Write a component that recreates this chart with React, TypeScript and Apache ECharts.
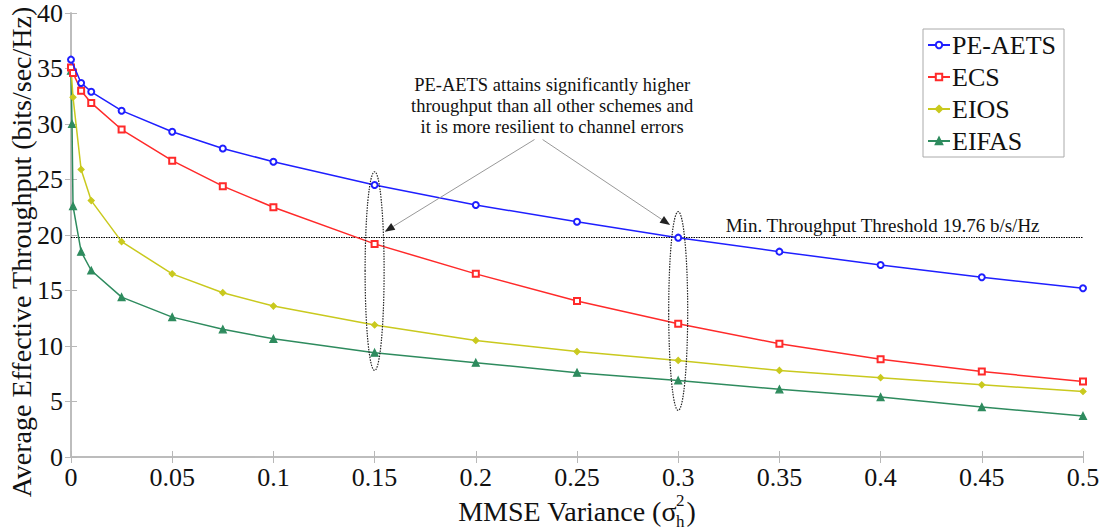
import React, { useEffect, useRef } from "react";
import * as echarts from "echarts";

const SERIF = "Liberation Serif";

// MMSE variance values (x) and throughput (y) for each scheme
const xMain = [0, 0.005, 0.01, 0.025, 0.05, 0.075, 0.1, 0.15, 0.2, 0.25, 0.3, 0.35, 0.4, 0.45, 0.5];
const peAets = [35.8, 33.7, 32.9, 31.2, 29.3, 27.8, 26.6, 24.5, 22.7, 21.2, 19.76, 18.5, 17.3, 16.2, 15.2];

const xEcs = [0, 0.001, 0.005, 0.01, 0.025, 0.05, 0.075, 0.1, 0.15, 0.2, 0.25, 0.3, 0.35, 0.4, 0.45, 0.5];
const ecs = [35.1, 34.6, 33.0, 31.9, 29.5, 26.7, 24.4, 22.5, 19.2, 16.5, 14.05, 12.0, 10.2, 8.8, 7.7, 6.8];

const xEios = [0, 0.001, 0.005, 0.01, 0.025, 0.05, 0.075, 0.1, 0.15, 0.2, 0.25, 0.3, 0.35, 0.4, 0.45, 0.5];
const eios = [35.0, 32.4, 25.9, 23.1, 19.4, 16.5, 14.8, 13.6, 11.9, 10.5, 9.5, 8.7, 7.8, 7.15, 6.5, 5.9];

const xEifas = [0, 0.0005, 0.001, 0.005, 0.01, 0.025, 0.05, 0.075, 0.1, 0.15, 0.2, 0.25, 0.3, 0.35, 0.4, 0.45, 0.5];
const eifas = [34.8, 30.0, 22.6, 18.5, 16.8, 14.4, 12.6, 11.5, 10.65, 9.4, 8.5, 7.6, 6.9, 6.1, 5.4, 4.5, 3.7];

const threshold = 19.76;

const seriesNames = ["PE-AETS", "ECS", "EIOS", "EIFAS"];
const seriesColors = ["#1f1fff", "#ff2a2a", "#c9c91e", "#2e8b5e"];
const seriesSymbols = ["emptyCircle", "emptyRect", "diamond", "triangle"];

const noteLines = [
  "PE-AETS attains significantly higher",
  "throughput than all other schemes and",
  "it is more resilient to channel errors",
];
const thresholdLabel = "Min. Throughput Threshold 19.76 b/s/Hz";
const yTitle = "Average Effective Throughput (bits/sec/Hz)";

const pair = (xs: number[], ys: number[]) => xs.map((x, i) => [x, ys[i]]);

function measure(text: string, font: string): number {
  const ctx = document.createElement("canvas").getContext("2d")!;
  ctx.font = font;
  return ctx.measureText(text).width;
}

export default function App() {
  const ref = useRef<HTMLDivElement>(null);

  useEffect(() => {
    const chart = echarts.init(ref.current!, undefined, { renderer: "svg" });
    const axisGray = "#b8b8b8";
    const xFmt = (v: number) => String(+v.toFixed(2));

    const datasets = [pair(xMain, peAets), pair(xEcs, ecs), pair(xEios, eios), pair(xEifas, eifas)];

    const frameAxis = (extra: any) => ({
      type: "value",
      axisLine: { show: true, lineStyle: { color: axisGray, width: 1.5 } },
      axisTick: { show: true, inside: true, length: 6, lineStyle: { color: axisGray } },
      splitLine: { show: false },
      ...extra,
    });

    const labelStyle = { color: "#111", fontFamily: SERIF, fontSize: 26, fontWeight: "normal" };

    chart.setOption({
      animation: false,
      backgroundColor: "#fff",
      textStyle: { fontFamily: SERIF },
      grid: { left: 71, right: 23, top: 13, bottom: 73, containLabel: false },
      xAxis: [
        frameAxis({
          min: 0, max: 0.5, interval: 0.05, position: "bottom",
          axisLabel: { ...labelStyle, margin: 7, formatter: xFmt },
        }),
        frameAxis({ min: 0, max: 0.5, interval: 0.05, position: "top", axisLabel: { show: false } }),
      ],
      yAxis: [
        frameAxis({
          min: 0, max: 40, interval: 5, position: "left",
          axisLabel: { ...labelStyle, margin: 8 },
        }),
        frameAxis({ min: 0, max: 40, interval: 5, position: "right", axisLabel: { show: false } }),
      ],
      legend: {
        orient: "vertical",
        right: 42,
        top: 29,
        padding: [3, 8, 3, 4],
        itemWidth: 22,
        itemHeight: 8,
        itemGap: 6,
        backgroundColor: "#fff",
        borderColor: "#aaa",
        borderWidth: 1,
        textStyle: { ...labelStyle, padding: [0, 0, 0, -3] },
        data: seriesNames,
      },
      series: seriesNames.map((name, i) => ({
        name,
        type: "line",
        data: datasets[i],
        symbol: seriesSymbols[i],
        symbolSize: i === 3 ? 7 : 6,
        showSymbol: true,
        color: seriesColors[i],
        lineStyle: { width: 1.5, color: seriesColors[i] },
        itemStyle: { color: seriesColors[i], borderColor: seriesColors[i], borderWidth: 1.2 },
        z: 10 - i,
        markLine:
          i === 0
            ? {
                silent: true,
                symbol: "none",
                label: { show: false },
                lineStyle: { color: "#000", type: [1.5, 1], width: 1.2 },
                data: [{ yAxis: threshold }],
              }
            : undefined,
      })),
    });

    const px = (x: number, y: number) => chart.convertToPixel({ gridIndex: 0 }, [x, y]) as number[];

    // dotted ellipses around the 0.15 and 0.3 columns
    const e1Top = px(0.15, 25.7), e1Bot = px(0.15, 7.8);
    const e2Top = px(0.3, 22.1), e2Bot = px(0.3, 4.2);
    const ellipse = (top: number[], bot: number[]) => ({
      type: "ellipse",
      shape: { cx: top[0], cy: (top[1] + bot[1]) / 2, rx: 9.5, ry: (bot[1] - top[1]) / 2 },
      style: { fill: "none", stroke: "#222", lineWidth: 1.2, lineDash: [1.5, 1.2] },
      z: 20,
    });

    // arrows from the note to the two ellipses
    const tailL = px(0.229, 28.6), tipL = px(0.155, 20.3);
    const tailR = px(0.233, 28.6), tipR = px(0.296, 20.9);
    const arrow = (a: number[], b: number[]) => {
      const ang = Math.atan2(b[1] - a[1], b[0] - a[0]);
      const L = 10, W = 4;
      const bx = b[0] - L * Math.cos(ang), by = b[1] - L * Math.sin(ang);
      const nx = -Math.sin(ang) * W, ny = Math.cos(ang) * W;
      return [
        { type: "line", shape: { x1: a[0], y1: a[1], x2: bx, y2: by }, style: { stroke: "#999", lineWidth: 1 }, z: 20 },
        {
          type: "polygon",
          shape: { points: [[b[0], b[1]], [bx + nx, by + ny], [bx - nx, by - ny]] },
          style: { fill: "#222" },
          z: 20,
        },
      ];
    };

    const noteCenter = px(0.2377, 33.5);
    const noteEls = noteLines.map((t, i) => ({
      type: "text",
      x: noteCenter[0],
      y: noteCenter[1] + i * 21,
      style: { text: t, font: `18.5px ${SERIF}`, fill: "#111", align: "center", verticalAlign: "middle" },
      z: 20,
    }));

    const thr = px(0.401, 20.9);

    // x-axis title with stacked sub/superscript on sigma
    const titleFont = `28px ${SERIF}`;
    const smallFont = `17px ${SERIF}`;
    const part1 = "MMSE Variance (σ";
    const w1 = measure(part1, titleFont);
    const wSmall = measure("h", smallFont);
    const w3 = measure(")", titleFont);
    const gridMid = (px(0, 0)[0] + px(0.5, 0)[0]) / 2;
    const totalW = w1 + wSmall + 1 + w3;
    const startX = gridMid - totalW / 2;
    const baseY = 511;

    chart.setOption({
      graphic: [
        ellipse(e1Top, e1Bot),
        ellipse(e2Top, e2Bot),
        ...arrow(tailL, tipL),
        ...arrow(tailR, tipR),
        ...noteEls,
        {
          type: "text", x: thr[0], y: thr[1],
          style: { text: thresholdLabel, font: `19px ${SERIF}`, fill: "#111", align: "center", verticalAlign: "middle" },
          z: 20,
        },
        {
          type: "text", x: 21, y: 252, rotation: Math.PI / 2,
          style: { text: yTitle, font: `28px ${SERIF}`, fill: "#111", align: "center", verticalAlign: "middle" },
        },
        {
          type: "text", x: startX, y: baseY,
          style: { text: part1, font: titleFont, fill: "#111", align: "left", verticalAlign: "middle" },
        },
        {
          type: "text", x: startX + w1 - 1, y: baseY - 11,
          style: { text: "2", font: smallFont, fill: "#111", align: "left", verticalAlign: "middle" },
        },
        {
          type: "text", x: startX + w1 - 1, y: baseY + 10,
          style: { text: "h", font: smallFont, fill: "#111", align: "left", verticalAlign: "middle" },
        },
        {
          type: "text", x: startX + w1 + wSmall + 1, y: baseY,
          style: { text: ")", font: titleFont, fill: "#111", align: "left", verticalAlign: "middle" },
        },
      ],
    });

    return () => chart.dispose();
  }, []);

  return <div ref={ref} style={{ width: 1106, height: 530, position: "absolute", left: 0, top: 0 }} />;
}
